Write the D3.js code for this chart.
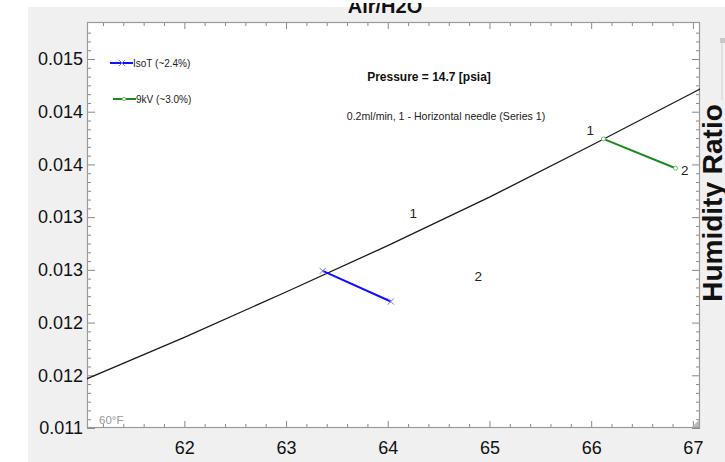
<!DOCTYPE html>
<html>
<head>
<meta charset="utf-8">
<script src="https://cdn.jsdelivr.net/npm/d3@7"></script>
<style>
  body { margin: 0; background: #fff; }
  svg { display: block; font-family: "Liberation Sans", Arial, sans-serif; }
</style>
</head>
<body>
<svg id="chart"></svg>
<script>
// saturation line (dry bulb F -> humidity ratio)
const satTemp = [61, 62, 63, 64, 65, 66, 67, 67.1];
const satW = [0.01145, 0.01186, 0.01229, 0.01273, 0.01319, 0.01368, 0.01418, 0.01423];

// IsoT process (blue)
const isoTemp = [63.36, 64.03];
const isoW = [0.01249, 0.01220];

// 9kV process (green)
const kvTemp = [66.12, 66.83];
const kvW = [0.013742, 0.013464];

// state point labels
const stateLabels = ['1', '2', '1', '2'];
const stateTemp = [64.25, 64.89, 65.99, 66.92];
const stateW = [0.01304, 0.012442, 0.013822, 0.013445];

const legendNames = ['IsoT (~2.4%)', '9kV (~3.0%)'];

const xTicks = [62, 63, 64, 65, 66, 67];
const yTicks = [0.011, 0.0115, 0.012, 0.0125, 0.013, 0.0135, 0.014, 0.0145];
const yTickLabels = ['0.011', '0.012', '0.012', '0.013', '0.013', '0.014', '0.014', '0.015'];

const W = 725, H = 462;
const box = { left: 87, top: 22, right: 700, bottom: 428 };

const svg = d3.select('#chart').attr('width', W).attr('height', H);

// background
svg.append('rect').attr('width', W).attr('height', H).attr('fill', '#fff');
svg.append('rect').attr('x', 28).attr('y', 7).attr('width', W - 28).attr('height', H - 7).attr('fill', '#f0f0f0');

const x = d3.scaleLinear().domain([61.043, 67.07]).range([box.left, box.right]);
const y = d3.scaleLinear().domain([0.011, 0.014851]).range([box.bottom, box.top]);

svg.append('rect')
  .attr('x', box.left).attr('y', box.top)
  .attr('width', box.right - box.left).attr('height', box.bottom - box.top)
  .attr('fill', '#fff');

// minor tick values
const xMinor = d3.range(61.2, 67.05, 0.2).filter(v => Math.abs(v - Math.round(v)) > 0.01);
const yMinor = d3.range(0, 46).map(i => 0.011 + i * 0.0005 / 6).filter((v, i) => i % 6 !== 0 && v < 0.01485);

function styleAxis(g) {
  g.select('.domain').remove();
  g.selectAll('line').attr('stroke', '#8a8a8a');
  g.selectAll('text').attr('fill', '#111').attr('font-size', 18)
    .attr('font-family', '"Liberation Sans", Arial, sans-serif');
}

// bottom
svg.append('g').attr('transform', `translate(0,${box.bottom})`)
  .call(d3.axisBottom(x).tickValues(xTicks).tickFormat(d3.format('d')).tickSize(-7).tickPadding(13))
  .call(styleAxis);
svg.append('g').attr('transform', `translate(0,${box.bottom})`)
  .call(d3.axisBottom(x).tickValues(xMinor).tickFormat('').tickSize(-4))
  .call(styleAxis);
// top
svg.append('g').attr('transform', `translate(0,${box.top})`)
  .call(d3.axisTop(x).tickValues(xTicks).tickFormat('').tickSize(-7))
  .call(styleAxis);
svg.append('g').attr('transform', `translate(0,${box.top})`)
  .call(d3.axisTop(x).tickValues(xMinor).tickFormat('').tickSize(-4))
  .call(styleAxis);
// left
svg.append('g').attr('transform', `translate(${box.left},0)`)
  .call(d3.axisLeft(y).tickValues(yTicks).tickFormat((d, i) => yTickLabels[i]).tickSize(-8).tickPadding(4))
  .call(styleAxis);
svg.append('g').attr('transform', `translate(${box.left},0)`)
  .call(d3.axisLeft(y).tickValues(yMinor).tickFormat('').tickSize(-4))
  .call(styleAxis);
// right
svg.append('g').attr('transform', `translate(${box.right},0)`)
  .call(d3.axisRight(y).tickValues(yTicks).tickFormat('').tickSize(-8))
  .call(styleAxis);
svg.append('g').attr('transform', `translate(${box.right},0)`)
  .call(d3.axisRight(y).tickValues(yMinor).tickFormat('').tickSize(-4))
  .call(styleAxis);

// frame
svg.append('rect')
  .attr('x', box.left + 0.5).attr('y', box.top + 0.5)
  .attr('width', box.right - box.left - 1).attr('height', box.bottom - box.top - 1)
  .attr('fill', 'none').attr('stroke', '#9a9a9a').attr('stroke-width', 1.2);

// clip
svg.append('clipPath').attr('id', 'plot-clip')
  .append('rect').attr('x', box.left).attr('y', box.top)
  .attr('width', box.right - box.left).attr('height', box.bottom - box.top);
const plot = svg.append('g').attr('clip-path', 'url(#plot-clip)');

const line = d3.line().x(d => x(d[0])).y(d => y(d[1]));

plot.append('path')
  .datum(d3.zip(satTemp, satW))
  .attr('d', line)
  .attr('fill', 'none').attr('stroke', '#1a1a1a').attr('stroke-width', 1.3);

plot.append('path')
  .datum(d3.zip(isoTemp, isoW))
  .attr('d', line)
  .attr('fill', 'none').attr('stroke', '#1010ff').attr('stroke-width', 2);

plot.append('path')
  .datum(d3.zip(kvTemp, kvW))
  .attr('d', line)
  .attr('fill', 'none').attr('stroke', '#1c8a1c').attr('stroke-width', 2);

// markers
const cross = d3.symbol().type(d3.symbolX).size(28);
plot.selectAll('.iso-mark')
  .data(d3.zip(isoTemp, isoW))
  .join('path')
  .attr('transform', d => `translate(${x(d[0])},${y(d[1])})`)
  .attr('d', cross)
  .attr('fill', 'none').attr('stroke', '#7a7aff').attr('stroke-width', 1);

plot.selectAll('.kv-mark')
  .data(d3.zip(kvTemp, kvW))
  .join('circle')
  .attr('cx', d => x(d[0])).attr('cy', d => y(d[1]))
  .attr('r', 2).attr('fill', '#fff').attr('stroke', '#6cc06c').attr('stroke-width', 1);

// state labels
plot.selectAll('.state')
  .data(stateLabels)
  .join('text')
  .attr('x', (d, i) => x(stateTemp[i]))
  .attr('y', (d, i) => y(stateW[i]))
  .attr('text-anchor', 'middle')
  .attr('dy', '0.35em')
  .attr('font-size', 13.5)
  .attr('fill', '#222')
  .text(d => d);

// legend
const legendColors = ['#1010ff', '#1c8a1c'];
const legendMark = ['#7a7aff', '#6cc06c'];
const legendY = [63, 99];
const legendX = [110, 113];
legendNames.forEach((name, i) => {
  svg.append('line')
    .attr('x1', legendX[i]).attr('x2', legendX[i] + 23)
    .attr('y1', legendY[i]).attr('y2', legendY[i])
    .attr('stroke', legendColors[i]).attr('stroke-width', 2);
  if (i === 0) {
    svg.append('path')
      .attr('transform', `translate(${legendX[i] + 12},${legendY[i]})`)
      .attr('d', cross).attr('fill', 'none').attr('stroke', legendMark[i]);
  } else {
    svg.append('circle')
      .attr('cx', legendX[i] + 11).attr('cy', legendY[i]).attr('r', 1.8)
      .attr('fill', '#fff').attr('stroke', legendMark[i]);
  }
  svg.append('text')
    .attr('x', legendX[i] + 23).attr('y', legendY[i])
    .attr('dy', '0.35em').attr('font-size', 10).attr('fill', '#222')
    .text(name);
});

// annotations
svg.append('text')
  .attr('x', 429).attr('y', 77).attr('dy', '0.35em')
  .attr('text-anchor', 'middle').attr('font-size', 12).attr('font-weight', 'bold')
  .attr('fill', '#111')
  .text('Pressure = 14.7 [psia]');

svg.append('text')
  .attr('x', 446).attr('y', 116).attr('dy', '0.35em')
  .attr('text-anchor', 'middle').attr('font-size', 10.6).attr('fill', '#222')
  .text('0.2ml/min, 1 - Horizontal needle (Series 1)');

svg.append('text')
  .attr('x', 99).attr('y', 420).attr('dy', '0.35em')
  .attr('font-size', 11.5).attr('fill', '#9a9a9a')
  .text('60°F');

// title (cut off at top of the capture)
svg.append('text')
  .attr('x', 385).attr('y', 13)
  .attr('text-anchor', 'middle').attr('font-size', 20).attr('font-weight', 'bold')
  .attr('fill', '#111')
  .text('Air/H2O');
svg.append('rect').attr('x', 0).attr('y', 0).attr('width', W).attr('height', 3).attr('fill', '#fff');

// y axis title on the right
svg.append('text')
  .attr('transform', 'translate(722,203) rotate(-90)')
  .attr('text-anchor', 'middle')
  .attr('font-size', 28).attr('font-weight', 'bold').attr('fill', '#111')
  .text('Humidity Ratio');

// stub of a neighbouring control
svg.append('line').attr('x1', 722).attr('x2', 722).attr('y1', 38).attr('y2', 100)
  .attr('stroke', '#d0d0d0');
svg.append('rect').attr('x', 720).attr('y', 38).attr('width', 5).attr('height', 5).attr('fill', '#c8c8c8');

// resize grip
svg.append('path')
  .attr('d', `M${box.right - 1},${box.bottom - 8} L${box.right - 1},${box.bottom - 1} L${box.right - 8},${box.bottom - 1} Z`)
  .attr('fill', '#b8b8b8');
</script>
</body>
</html>
